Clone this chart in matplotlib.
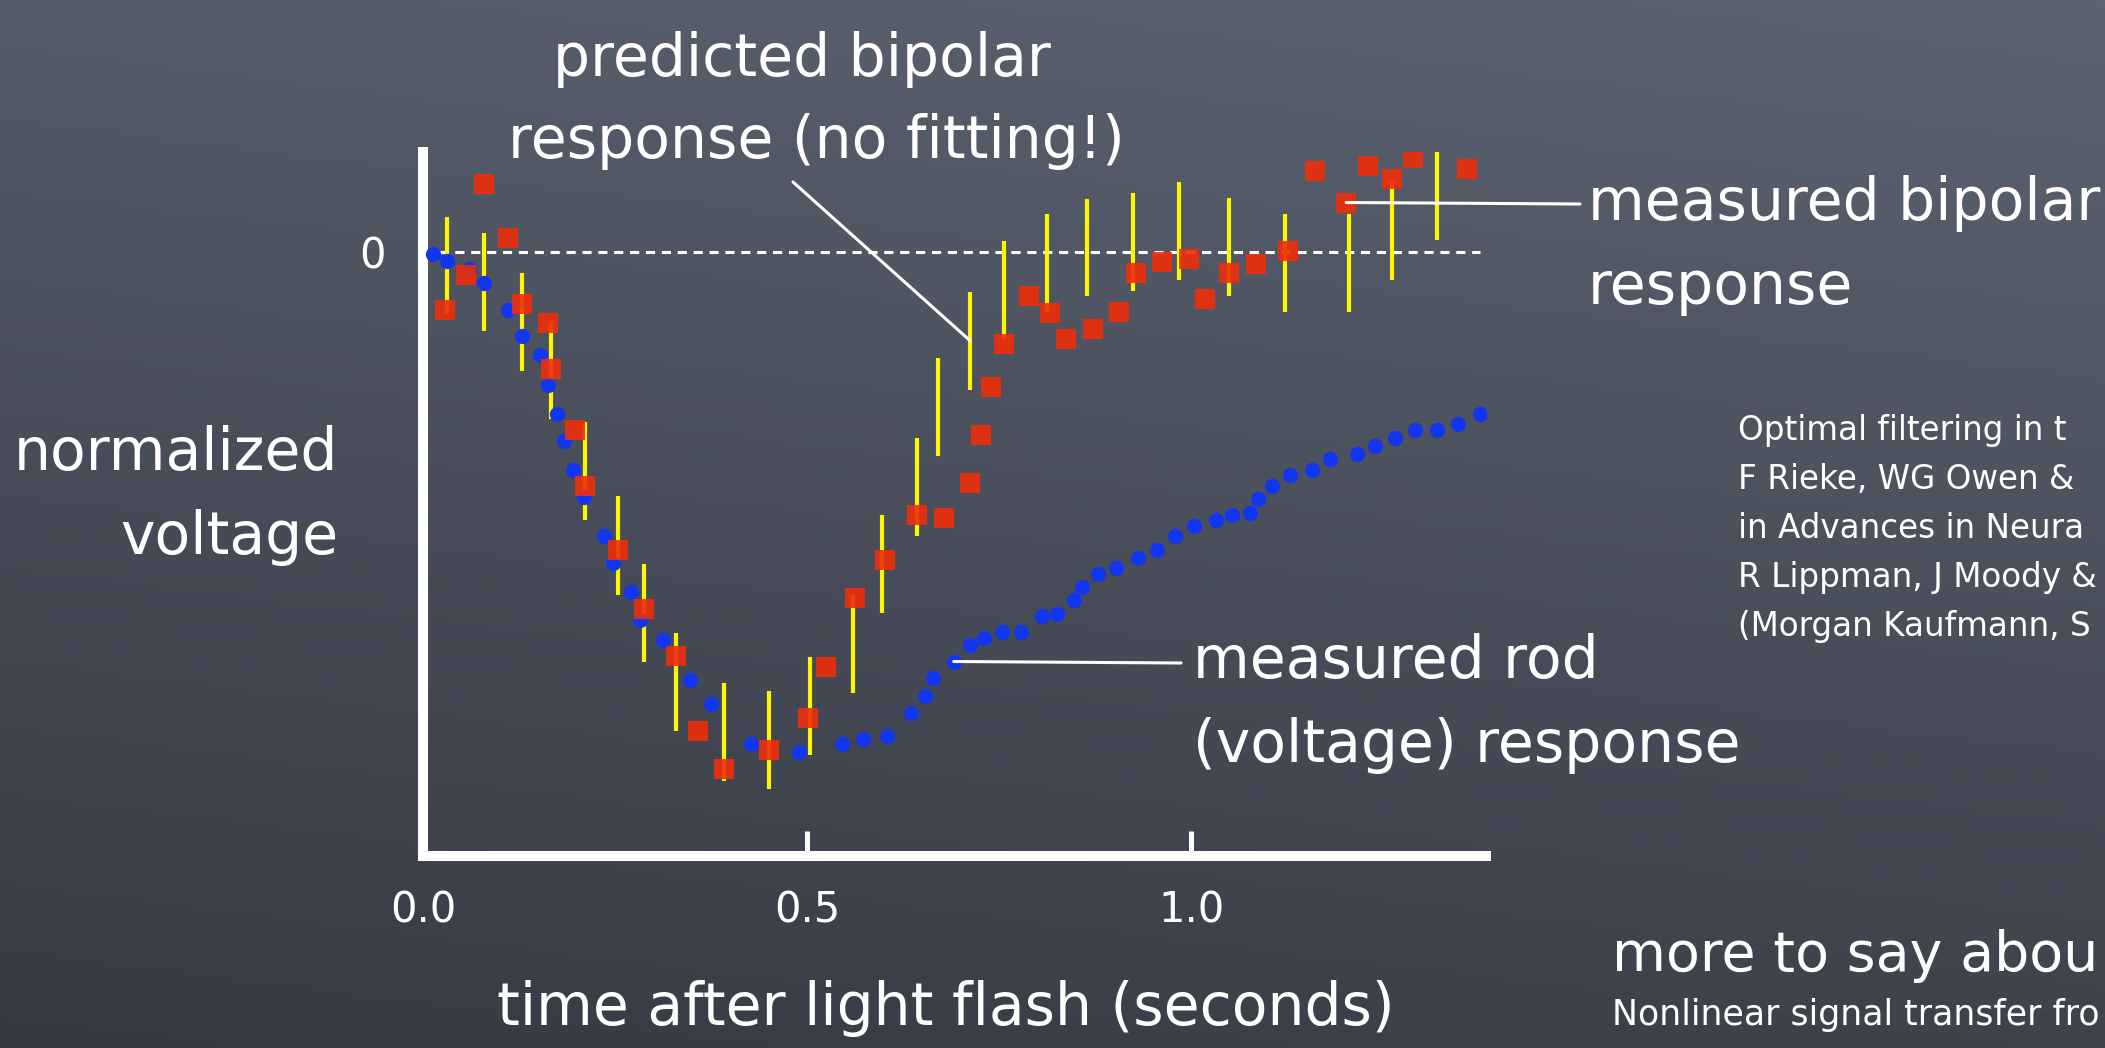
import numpy as np
import matplotlib.pyplot as plt

plt.rcParams['font.family'] = ['DejaVu Sans']

# measured rod (voltage) response: time (s), normalized voltage
rod_t = [0.013, 0.031, 0.060, 0.080, 0.111, 0.129, 0.152, 0.163, 0.174, 0.184,
         0.195, 0.209, 0.236, 0.247, 0.271, 0.282, 0.313, 0.348, 0.375, 0.427,
         0.490, 0.546, 0.573, 0.604, 0.635, 0.653, 0.664, 0.691, 0.712, 0.730,
         0.754, 0.778, 0.806, 0.826, 0.847, 0.858, 0.879, 0.902, 0.931, 0.955,
         0.979, 1.004, 1.032, 1.053, 1.077, 1.087, 1.105, 1.129, 1.157, 1.181,
         1.216, 1.240, 1.265, 1.292, 1.320, 1.348, 1.376]
rod_v = [-0.003, -0.018, -0.034, -0.061, -0.115, -0.167, -0.205, -0.265, -0.323, -0.377,
         -0.435, -0.489, -0.568, -0.621, -0.679, -0.735, -0.776, -0.856, -0.904, -0.984,
         -0.999, -0.984, -0.973, -0.968, -0.921, -0.888, -0.851, -0.819, -0.786, -0.771,
         -0.759, -0.759, -0.727, -0.723, -0.696, -0.669, -0.643, -0.631, -0.611, -0.595,
         -0.568, -0.547, -0.536, -0.526, -0.521, -0.493, -0.467, -0.446, -0.435, -0.414,
         -0.403, -0.387, -0.371, -0.356, -0.356, -0.344, -0.323]

# bipolar response (red squares)
bip_t = [0.028, 0.056, 0.080, 0.111, 0.129, 0.163, 0.167, 0.198, 0.211, 0.254,
         0.288, 0.330, 0.358, 0.392, 0.451, 0.501, 0.525, 0.563, 0.601, 0.643,
         0.678, 0.712, 0.726, 0.740, 0.757, 0.789, 0.816, 0.837, 0.872, 0.906,
         0.928, 0.962, 0.997, 1.018, 1.049, 1.084, 1.126, 1.161, 1.202, 1.230,
         1.261, 1.289, 1.324, 1.359]
bip_v = [-0.115, -0.045, 0.136, 0.029, -0.104, -0.141, -0.233, -0.355, -0.467, -0.595,
         -0.713, -0.808, -0.957, -1.033, -0.995, -0.931, -0.829, -0.691, -0.616, -0.525,
         -0.531, -0.461, -0.365, -0.269, -0.184, -0.088, -0.121, -0.173, -0.153, -0.120,
         -0.041, -0.019, -0.013, -0.094, -0.041, -0.024, 0.003, 0.163, 0.099, 0.173,
         0.146, 0.189, 0.221, 0.167]

# yellow error bars: centre and half length
err_t = [0.031, 0.080, 0.129, 0.167, 0.211, 0.254, 0.288, 0.330, 0.392, 0.451,
         0.504, 0.560, 0.598, 0.643, 0.671, 0.712, 0.757, 0.813, 0.865, 0.924,
         0.984, 1.049, 1.122, 1.205, 1.261, 1.320]
err_c = [-0.027, -0.059, -0.139, -0.235, -0.438, -0.587, -0.721, -0.859, -0.960, -0.976,
         -0.907, -0.784, -0.624, -0.470, -0.310, -0.177, -0.075, -0.022, 0.010, 0.021,
         0.042, 0.010, -0.022, -0.022, 0.042, 0.123]
err_h = [0.097, 0.098, 0.098, 0.098, 0.098, 0.099, 0.098, 0.098, 0.098, 0.098,
         0.098, 0.098, 0.098, 0.098, 0.098, 0.098, 0.098, 0.098, 0.097, 0.098,
         0.098, 0.098, 0.098, 0.098, 0.098, 0.098]

xtick_vals = [0.0, 0.5, 1.0]
xtick_labels = ['0.0', '0.5', '1.0']

# citation block, as much as the slide shows
refs = ['Optimal filtering in t',
        'F Rieke, WG Owen &',
        'in Advances in Neura',
        'R Lippman, J Moody &',
        '(Morgan Kaufmann, S']

W, H = 2105, 1048
fig = plt.figure(figsize=(W / 100, H / 100), dpi=100)

# chalkboard background
bg = fig.add_axes([0, 0, 1, 1], zorder=-1)
gy = np.linspace(0, 1, 200)[:, None, None]
gx = np.linspace(0, 1, 300)[None, :, None]
top = np.array([92, 99, 113]) / 255
bot = np.array([54, 58, 68]) / 255
t = np.clip(0.8 * gy + 0.2 * (1 - gx), 0, 1)
bg.imshow(top * (1 - t) + bot * t, extent=[0, 1, 0, 1], aspect='auto')
bg.axis('off')

ax = fig.add_axes([423 / W, (H - 856) / H, (1486 - 423) / W, (856 - 152) / H])
ax.set_facecolor('none')

ax.errorbar(err_t, err_c, yerr=err_h, fmt='none', ecolor='#fff700', elinewidth=3, capsize=0, zorder=2)
ax.plot(rod_t, rod_v, 'o', color='#1236f0', ms=11, mew=0, zorder=3)
ax.plot(bip_t, bip_v, 's', color='#ee2e0a', ms=15, mew=0, alpha=0.9, zorder=4)
ax.hlines(0, 0, rod_t[-1], color='white', lw=2.2, linestyles=(0, (3, 2.2)), zorder=1)

ax.set_xlim(0, 1.384)
ax.set_ylim(-1.208, 0.2)
for s in ['top', 'right']:
    ax.spines[s].set_visible(False)
for s in ['left', 'bottom']:
    ax.spines[s].set_color('white')
    ax.spines[s].set_linewidth(7.2)
    ax.spines[s].set_capstyle('projecting')

ax.set_xticks(xtick_vals)
ax.set_xticklabels(xtick_labels)
ax.tick_params(axis='x', direction='in', length=18, width=3.6, color='white',
               labelcolor='white', labelsize=30, pad=24)
ax.set_yticks([0])
ax.set_yticklabels(['0'])
ax.tick_params(axis='y', length=0, labelcolor='white', labelsize=30, pad=27)

line_kw = dict(arrowstyle='-', color='white', lw=2.2, shrinkA=0, shrinkB=0)
ax.annotate('', xy=(err_t[15], err_c[15]), xytext=(793, H - 182),
            textcoords='figure pixels', arrowprops=line_kw, zorder=5)
ax.annotate('', xy=(bip_t[38], bip_v[38]), xytext=(1580, H - 204),
            textcoords='figure pixels', arrowprops=line_kw, zorder=5)
ax.annotate('', xy=(rod_t[27], rod_v[27]), xytext=(1181, H - 663),
            textcoords='figure pixels', arrowprops=line_kw, zorder=5)


def txt(x, y, s, size=42, ha='left'):
    fig.text(x / W, 1 - y / H, s, ha=ha, va='baseline', fontsize=size, color='white')


txt(802, 76, 'predicted bipolar', ha='center')
txt(816, 158, 'response (no fitting!)', ha='center')
txt(1588, 220, 'measured bipolar')
txt(1588, 304, 'response')
txt(1193, 678, 'measured rod')
txt(1193, 762, '(voltage) response')
txt(338, 470, 'normalized', ha='right')
txt(338, 554, 'voltage', ha='right')
txt(946, 1025, 'time after light flash (seconds)', ha='center')

for i, r in enumerate(refs):
    txt(1738, 440 + 49 * i, r, size=23.5)

txt(1612, 971, 'more to say abou', size=40)
txt(1612, 1025, 'Nonlinear signal transfer fro', size=25)

fig.savefig('out.png', dpi=100)
